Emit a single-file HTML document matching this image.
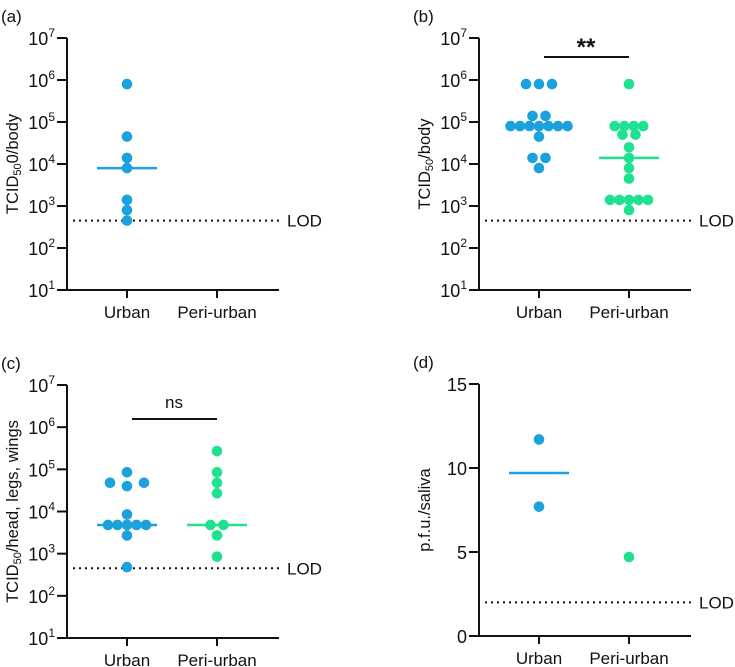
<!DOCTYPE html>
<html><head><meta charset="utf-8"><style>
html,body{margin:0;padding:0;background:#fff;}
svg{display:block;font-family:"Liberation Sans",Arial,sans-serif;}
</style></head><body>
<svg id="fig" width="735" height="667" viewBox="0 0 735 667"></svg>
<script>
// ----- data -----
const categories = ["Urban", "Peri-urban"];
const logTicks = [1, 2, 3, 4, 5, 6, 7];
const linTicks = [0, 5, 10, 15];
const aUrban = [8e5, 4.5e4, 1.4e4, 8e3, 1.4e3, 8e2, 4.5e2];
const aPeri = [];
const aMedians = [8e3, null];
const bUrban = [8e5, 8e5, 8e5, 1.4e5, 1.4e5, 8e4, 8e4, 8e4, 8e4, 8e4, 8e4, 8e4, 4.5e4, 1.4e4, 1.4e4, 8e3];
const bPeri = [8e5, 8e4, 8e4, 8e4, 8e4, 5e4, 5e4, 2.5e4, 1.4e4, 8e3, 4.5e3, 1.4e3, 1.4e3, 1.4e3, 1.4e3, 1.4e3, 8e2];
const bMedians = [8e4, 1.4e4];
const cUrban = [8.5e4, 4.8e4, 4.8e4, 4e4, 8.5e3, 4.8e3, 4.8e3, 4.8e3, 4.8e3, 4.8e3, 2.7e3, 4.8e2];
const cPeri = [2.7e5, 8.5e4, 4.8e4, 2.7e4, 4.8e3, 4.8e3, 2.7e3, 8.5e2];
const cMedians = [4.8e3, 4.8e3];
const dUrban = [11.7, 7.7];
const dPeri = [4.7];
const dMedians = [9.7, null];
const lodLog = 450;
const lodLin = 2;

const NS = "http://www.w3.org/2000/svg";
const svg = document.getElementById("fig");
const BLUE = "#1ba1dc", GREEN = "#1ee28f";
function mk(tag, attrs, parent) {
  const e = document.createElementNS(NS, tag);
  for (const k in attrs) e.setAttribute(k, attrs[k]);
  (parent || svg).appendChild(e);
  return e;
}

function panel(p) {
  const g = mk("g", {});
  
  
  const x0 = p.ax, yTop = p.top, yBot = p.bot, xEnd = p.ax + 212;
  const catX = [p.ax + 60, p.ax + 150];
  const yS = p.log
    ? v => yBot - (Math.log10(v) - 1) / 6 * (yBot - yTop)
    : v => yBot - v / 15 * (yBot - yTop);
  const lab = mk("text", {x: p.ax - 66, y: p.top - 16, "font-size": 17, fill: "#111"}, g);
  lab.textContent = "(" + p.id + ")";
  
  
  const ya = mk("line", {x1: x0, y1: yTop, x2: x0, y2: yBot + 1, stroke: "#111", "stroke-width": 2}, g);
  
  
  const xa = mk("line", {x1: x0 - 1, y1: yBot, x2: xEnd, y2: yBot, stroke: "#111", "stroke-width": 2}, g);
  
  
  const ticks = p.log ? logTicks : linTicks;
  ticks.forEach(t => {
    const y = p.log ? yS(Math.pow(10, t)) : yS(t);
    mk("line", {x1: x0 - 10, y1: y, x2: x0, y2: y, stroke: "#111", "stroke-width": 2}, g);
    const tx = mk("text", {x: x0 - 12, y: y + 7, "font-size": 18, "text-anchor": "end", fill: "#111"}, g);
    
    
    if (p.log) {
      const b = mk("tspan", {}, tx); b.textContent = "10";
      const s = mk("tspan", {dy: -8, "font-size": 12}, tx); s.textContent = t;
    } else tx.textContent = t;
  });
  categories.forEach((c, i) => {
    mk("line", {x1: catX[i], y1: yBot, x2: catX[i], y2: yBot + 8, stroke: "#111", "stroke-width": 2}, g);
    const t = mk("text", {x: catX[i], y: yBot + 28, "font-size": 17, "text-anchor": "middle", fill: "#111"}, g);
    t.textContent = c;
    
    
  });
  const yt = mk("text", {x: 0, y: 0, "font-size": 16.5, "text-anchor": "middle", fill: "#111",
    transform: `translate(${p.ax - 49},${(yTop + yBot) / 2}) rotate(-90)`}, g);
  
  
  p.title.forEach(part => {
    const s = mk("tspan", part.sub ? {"font-size": 11, dy: 3} : (part.after ? {dy: -3} : {}), yt);
    s.textContent = part.t;
  });
  const ly = yS(p.log ? lodLog : lodLin);
  const ld = mk("line", {x1: x0 + 6, y1: ly, x2: xEnd, y2: ly, stroke: "#111", "stroke-width": 2, "stroke-dasharray": "2,4"}, g);
  
  
  const lt = mk("text", {x: xEnd + 8, y: ly + 6, "font-size": 17, fill: "#111"}, g);
  lt.textContent = "LOD";
  
  
  [p.s0, p.s1].forEach((vals, i) => {
    const col = i === 0 ? BLUE : GREEN;
    const groups = {};
    vals.forEach(v => { groups[v] = (groups[v] || 0) + 1; });
    const seen = {};
    vals.forEach(v => {
      const n = groups[v], k = seen[v] = (seen[v] || 0) + 1;
      const sp = n >= 4 ? 9.5 : (n === 2 && p.id === "c" && i === 0 ? 34 : 13);
      const x = catX[i] + (k - 1 - (n - 1) / 2) * sp;
      const c = mk("circle", {cx: x, cy: yS(v), r: 5.3, fill: col}, g);
      
      
    });
    const m = p.med[i];
    if (m !== null) {
      const ml = mk("line", {x1: catX[i] - 30, y1: yS(m), x2: catX[i] + 30, y2: yS(m), stroke: col, "stroke-width": 2.5}, g);
      
      
    }
  });
  if (p.sig) {
    const by = p.sig.y;
    const bl = mk("line", {x1: catX[0] + 5, y1: by, x2: catX[1], y2: by, stroke: "#111", "stroke-width": 2}, g);
    
    
    const st = mk("text", {x: (catX[0] + catX[1]) / 2 + 2, y: by - p.sig.dy, "font-size": p.sig.fs, "font-weight": p.sig.bold ? "bold" : "normal", "text-anchor": "middle", fill: "#111"}, g);
    st.textContent = p.sig.t;
    
    
  }
}

panel({id: "a", ax: 67, top: 38, bot: 290, log: true, s0: aUrban, s1: aPeri, med: aMedians,
  title: [{t: "TCID"}, {t: "50", sub: true}, {t: "0/body", after: true}]});
panel({id: "b", ax: 479, top: 38, bot: 290, log: true, s0: bUrban, s1: bPeri, med: bMedians,
  title: [{t: "TCID"}, {t: "50", sub: true}, {t: "/body", after: true}],
  sig: {y: 57, dy: 2, t: "**", fs: 24, bold: true}});
panel({id: "c", ax: 67, top: 385, bot: 638, log: true, s0: cUrban, s1: cPeri, med: cMedians,
  title: [{t: "TCID"}, {t: "50", sub: true}, {t: "/head, legs, wings", after: true}],
  sig: {y: 419, dy: 11, t: "ns", fs: 17, bold: false}});
panel({id: "d", ax: 479, top: 384, bot: 636, log: false, s0: dUrban, s1: dPeri, med: dMedians,
  title: [{t: "p.f.u./saliva"}]});
</script>
</body></html>
